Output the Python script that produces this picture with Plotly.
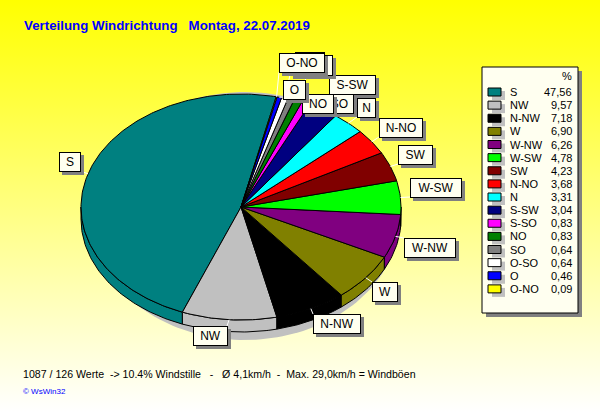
import math
import plotly.graph_objects as go

# ---------- data ----------
directions = ["S", "NW", "N-NW", "W", "W-NW", "W-SW", "SW", "N-NO", "N", "S-SW",
              "S-SO", "NO", "SO", "O-SO", "O", "O-NO"]
shares = [47.56, 9.57, 7.18, 6.90, 6.26, 4.78, 4.23, 3.68, 3.31, 3.04,
          0.83, 0.83, 0.64, 0.64, 0.46, 0.09]
share_labels = ["47,56", "9,57", "7,18", "6,90", "6,26", "4,78", "4,23", "3,68", "3,31", "3,04",
                "0,83", "0,83", "0,64", "0,64", "0,46", "0,09"]
colors = ["#008080", "#C0C0C0", "#000000", "#808000", "#800080", "#00FF00", "#800000", "#FF0000",
          "#00FFFF", "#000080", "#FF00FF", "#008000", "#808080", "#FFFFFF", "#0000FF", "#FFFF00"]

title_text = "Verteilung Windrichtung   Montag, 22.07.2019"
footer_text = "1087 / 126 Werte  -> 10.4% Windstille   -   Ø 4,1km/h  -  Max. 29,0km/h = Windböen"
credit_text = "© WsWin32"

# ---------- layout constants (pixels) ----------
W, H = 600, 412
CX, CY, RX, RY, DEPTH = 241, 207, 160, 113, 12
START = 372.7
FONT = "Liberation Sans"
BOX_FILL = "#FFFFF0"
# label boxes: x0, y0, x1, y1, in stacking order
label_boxes = {
    "S": (59, 152, 80, 171), "NW": (193, 326, 227, 345), "N-NW": (313, 314, 360, 333),
    "W": (372, 282, 397, 301), "W-NW": (404, 238, 455, 257), "W-SW": (410, 178, 461, 197),
    "SW": (398, 145, 432, 164), "N-NO": (379, 118, 422, 137), "N": (357, 98, 375, 117),
    "S-SW": (329, 75, 375, 94), "SO": (325, 94, 353, 113), "S-SO": (295, 52, 324, 72),
    "O-SO": (290, 55, 332, 75), "NO": (302, 94, 333, 113), "O": (283, 80, 305, 99),
    "O-NO": (279, 53, 324, 72),
}


def ell(t, dy=0.0, rx=RX, ry=RY, cx=CX, cy=CY):
    a = math.radians(t)
    return cx + rx * math.sin(a), cy - ry * math.cos(a) + dy


def arc(a0, a1, dy=0.0):
    n = max(2, int(abs(a1 - a0)) + 2)
    return [ell(a0 + (a1 - a0) * i / (n - 1), dy) for i in range(n)]


fig = go.Figure()

# background gradient
fig.add_trace(go.Scatter(x=[0, W, W, 0, 0], y=[0, 0, H, H, 0], mode="lines", line=dict(width=0),
                         fill="toself", hoverinfo="skip",
                         fillgradient=dict(type="vertical", colorscale=[[0, "#FFFFFF"], [1, "#FFFF00"]])))

# grey backdrop ellipse
pts = [ell(t, rx=155, ry=124, cx=245, cy=216) for t in range(0, 361, 2)]
fig.add_trace(go.Scatter(x=[p[0] for p in pts], y=[p[1] for p in pts], mode="lines",
                         line=dict(width=0), fill="toself", fillcolor="#C0C0C0", hoverinfo="skip"))

# slice angle ranges: going counter-clockwise from START
ranges = []
cur = START
total = sum(shares)
for v in shares:
    nxt = cur - v / total * 360.0
    ranges.append((nxt, cur))
    cur = nxt

# rim
for (a0, a1), c in zip(ranges, colors):
    for shift in (0, 360):
        lo, hi = max(a0 + shift, 90), min(a1 + shift, 270)
        if hi > lo:
            poly = arc(lo, hi) + arc(hi, lo, DEPTH)
            poly.append(poly[0])
            fig.add_trace(go.Scatter(x=[p[0] for p in poly], y=[p[1] for p in poly], mode="lines",
                                     line=dict(color="#000000", width=1), fill="toself",
                                     fillcolor=c, hoverinfo="skip"))

# top faces
for (a0, a1), c in zip(ranges, colors):
    poly = [(CX, CY)] + arc(a0, a1) + [(CX, CY)]
    fig.add_trace(go.Scatter(x=[p[0] for p in poly], y=[p[1] for p in poly], mode="lines",
                             line=dict(color="#000000", width=1), fill="toself",
                             fillcolor=c, hoverinfo="skip"))

# leader lines
for name, (a0, a1) in zip(directions, ranges):
    x0, y0, x1, y1 = label_boxes[name]
    px, py = ell((a0 + a1) / 2)
    qx, qy = min(max(px, x0), x1), min(max(py, y0), y1)
    fig.add_trace(go.Scatter(x=[px, qx], y=[py, qy], mode="lines",
                             line=dict(color="#FFFFFF", width=1), hoverinfo="skip"))

shapes = []
annotations = []


def text(x, y, s, size=11.0, color="#000000", anchor="left", bold=False):
    annotations.append(dict(x=x, y=y, xref="x", yref="y", text=f"<b>{s}</b>" if bold else s,
                            showarrow=False, xanchor=anchor, yanchor="middle",
                            font=dict(family=FONT, size=size, color=color)))


# legend panel
LX0, LY0, LX1, LY1 = 482, 67, 578, 313
shapes.append(dict(type="rect", x0=LX0 + 4, y0=LY0 + 4, x1=LX1 + 4, y1=LY1 + 4,
                   fillcolor="#808080", line=dict(width=0), layer="above"))
shapes.append(dict(type="rect", x0=LX0, y0=LY0, x1=LX1, y1=LY1, fillcolor=BOX_FILL,
                   line=dict(color="#000000", width=1), layer="above"))
text(560, 76, "%")
for i, (name, lab, c) in enumerate(zip(directions, share_labels, colors)):
    yc = 92 + i * 13.125
    shapes.append(dict(type="rect", x0=492, y0=yc - 1, x1=505, y1=yc + 8,
                       fillcolor="#C0C0C0", line=dict(width=0), layer="above"))
    shapes.append(dict(type="rect", x0=488, y0=yc - 4, x1=501, y1=yc + 4, fillcolor=c,
                       line=dict(color="#000000", width=1), layer="above"))
    text(508, yc, name)
    text(574, yc, lab, anchor="right")

# titles
text(22, 25, title_text, size=13.3, color="#0000FF", bold=True)
text(21, 374, footer_text, size=10.6)
text(21, 391, credit_text, size=8, color="#0000FF")

# labels with shadow
for name, (x0, y0, x1, y1) in label_boxes.items():
    w, h = x1 - x0, y1 - y0
    annotations.append(dict(x=x0 + 3, y=y0 + 3, xref="x", yref="y", text=" ", showarrow=False,
                            xanchor="left", yanchor="top", width=w + 1, height=h + 1, bgcolor="#808080",
                            borderpad=0, borderwidth=0, font=dict(size=10)))
    annotations.append(dict(x=x0, y=y0, xref="x", yref="y", text=name, showarrow=False,
                            xanchor="left", yanchor="top", align="center", valign="middle",
                            width=w - 1, height=h - 1, bgcolor=BOX_FILL, bordercolor="#000000",
                            borderwidth=1, borderpad=0, font=dict(family=FONT, size=12, color="#000000")))

fig.update_layout(width=W, height=H, autosize=False, margin=dict(l=0, r=0, t=0, b=0),
                  paper_bgcolor="#FFFFFF", plot_bgcolor="rgba(0,0,0,0)", showlegend=False,
                  xaxis=dict(range=[0, W], visible=False, fixedrange=True),
                  yaxis=dict(range=[H, 0], visible=False, fixedrange=True),
                  shapes=shapes, annotations=annotations)

fig.write_html("out.html", post_script="document.body.style.margin='0';document.body.style.overflow='hidden';",
               config=dict(displayModeBar=False))
